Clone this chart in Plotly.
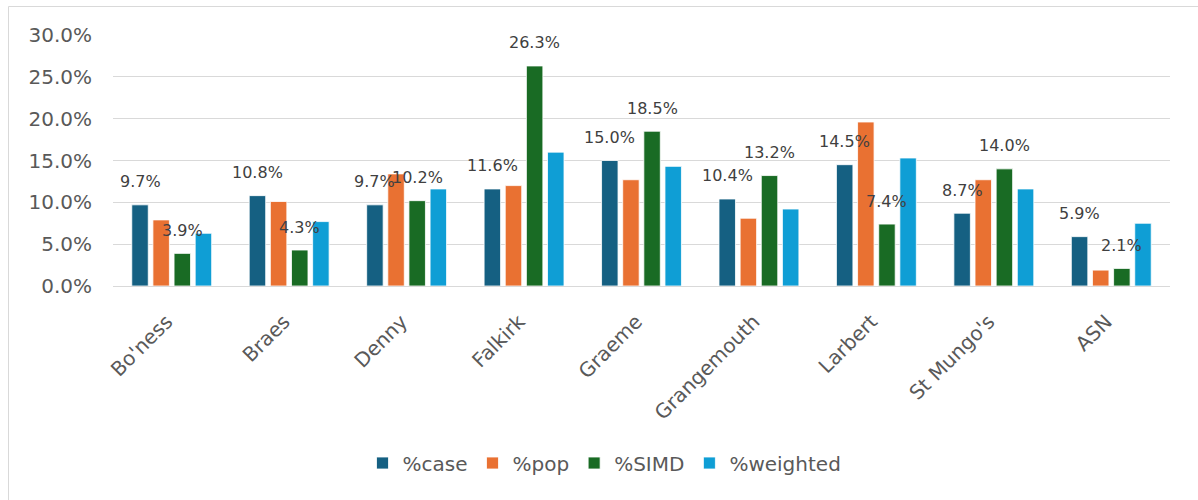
import plotly.graph_objects as go

categories = ["Bo'ness", "Braes", "Denny", "Falkirk", "Graeme", "Grangemouth", "Larbert", "St Mungo's", "ASN"]
pct_case = [9.7, 10.8, 9.7, 11.6, 15.0, 10.4, 14.5, 8.7, 5.9]
pct_pop = [7.9, 10.1, 13.4, 12.0, 12.7, 8.1, 19.6, 12.7, 1.9]
pct_simd = [3.9, 4.3, 10.2, 26.3, 18.5, 13.2, 7.4, 14.0, 2.1]
pct_weighted = [6.3, 7.7, 11.6, 16.0, 14.3, 9.2, 15.3, 11.6, 7.5]
y_ticks = [0, 5, 10, 15, 20, 25, 30]

series = [
    ("%case", pct_case, "#156082", True),
    ("%pop", pct_pop, "#E97132", False),
    ("%SIMD", pct_simd, "#196B24", True),
    ("%weighted", pct_weighted, "#0F9ED5", False),
]

W, H = 1198, 500
ML, MR, MT, MB = 113, 28, 35, 214
PW = W - ML - MR
PH = H - MT - MB
BARGAP = 0.28
BARGROUPGAP = 0.22
FONT = "DejaVu Sans"

fig = go.Figure()
for name, vals, color, _ in series:
    fig.add_trace(go.Bar(
        x=categories, y=vals, name=name,
        marker=dict(color=color, line=dict(color="white", width=0.8)),
        hoverinfo="x+y+name",
    ))

# data labels (only on %case and %SIMD), placed above their bars
slot = PW / len(categories) * (1 - BARGAP) / len(series)
for i, (name, vals, color, labelled) in enumerate(series):
    if not labelled:
        continue
    xshift = (i - (len(series) - 1) / 2) * slot
    for c, v in zip(categories, vals):
        fig.add_annotation(
            x=c, y=v, text=f"{v:.1f}%", showarrow=False,
            xshift=xshift, yshift=23, yanchor="middle", xanchor="center",
            font=dict(family=FONT, size=16, color="#404040"),
        )

# outer chart frame (left and top edges)
def px_to_paper_x(px):
    return (px - ML) / PW

def px_to_paper_y(py):
    return (H - MB - py) / PH

fx0, fy0 = px_to_paper_x(8.5), px_to_paper_y(6.5)
fx1, fy1 = px_to_paper_x(W + 2), px_to_paper_y(H + 2)
fig.add_shape(type="line", xref="paper", yref="paper", x0=fx0, y0=fy0, x1=fx0, y1=fy1,
              line=dict(color="#d9d9d9", width=1))
fig.add_shape(type="line", xref="paper", yref="paper", x0=fx0, y0=fy0, x1=fx1, y1=fy0,
              line=dict(color="#d9d9d9", width=1))

fig.update_layout(
    width=W, height=H,
    margin=dict(l=ML, r=MR, t=MT, b=MB, autoexpand=False),
    paper_bgcolor="white", plot_bgcolor="white",
    barmode="group", bargap=BARGAP, bargroupgap=BARGROUPGAP,
    font=dict(family=FONT, size=20, color="#595959"),
    showlegend=True,
    legend=dict(
        orientation="h", x=0.465, xanchor="center", y=px_to_paper_y(463), yanchor="middle",
        font=dict(family=FONT, size=20, color="#595959"),
        itemwidth=30, traceorder="normal",
    ),
    xaxis=dict(
        tickangle=-45, showgrid=False, showline=True, linecolor="#d9d9d9", linewidth=1,
        ticks="", ticklabelstandoff=15, ticklabelshift=-5,
        tickfont=dict(family=FONT, size=20, color="#595959"),
    ),
    yaxis=dict(
        range=[0, 30], tickvals=y_ticks, ticktext=[f"{t:.1f}%" for t in y_ticks],
        showgrid=True, gridcolor="#d9d9d9", gridwidth=1, zeroline=True, zerolinecolor="#d9d9d9",
        zerolinewidth=1, ticks="", ticklabelstandoff=20,
        tickfont=dict(family=FONT, size=20, color="#595959"),
    ),
)

fig.write_html("out.html")
